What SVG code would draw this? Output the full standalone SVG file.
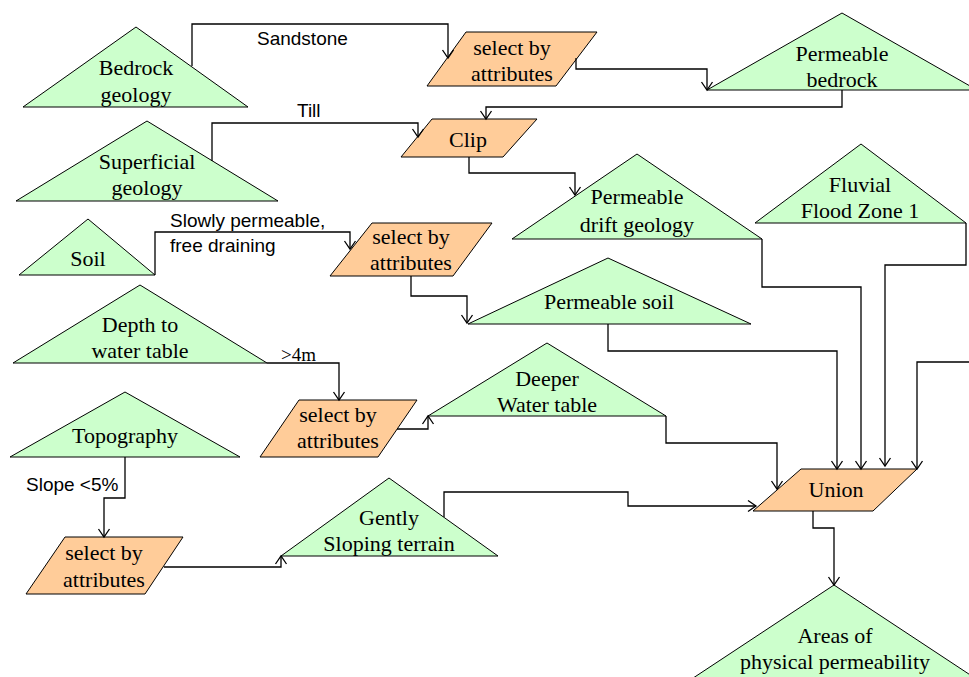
<svg xmlns="http://www.w3.org/2000/svg" width="969" height="677" viewBox="0 0 969 677">
<style>
.tri{fill:#CCFFCC;stroke:#000;stroke-width:1}
.par{fill:#FFCC99;stroke:#000;stroke-width:1}
.t{font-family:"Liberation Serif","Times New Roman",serif;font-size:22px;fill:#000;text-anchor:middle}
.lbl{font-family:"Liberation Sans",Arial,sans-serif;font-size:19px;fill:#000}
.lbls{font-family:"Liberation Serif","Times New Roman",serif;font-size:19px;fill:#000}
.c{fill:none;stroke:#000;stroke-width:1.3;marker-end:url(#arr)}
</style>
<defs>
<marker id="arr" markerWidth="12" markerHeight="12" refX="10" refY="6" orient="auto" markerUnits="userSpaceOnUse" overflow="visible">
<path d="M2,0.5 L10,6 L2,11.5" fill="none" stroke="#000" stroke-width="1.3"/>
</marker>
</defs>
<rect width="969" height="677" fill="#fff"/>

<g id="bedrock"><polygon class="tri" points="136,27 23,107 248,107"/><text class="t" x="136" y="75">Bedrock</text><text class="t" x="136" y="102">geology</text></g>
<g id="superficial"><polygon class="tri" points="147,121 16,201 278,201"/><text class="t" x="147" y="169">Superficial</text><text class="t" x="147" y="195">geology</text></g>
<g id="soil"><polygon class="tri" points="88,219 19,275 155,275"/><text class="t" x="88" y="266">Soil</text></g>
<g id="depth"><polygon class="tri" points="140,285 13,363 267,363"/><text class="t" x="140" y="332">Depth to</text><text class="t" x="140" y="358">water table</text></g>
<g id="topography"><polygon class="tri" points="125,392 10,457 240,457"/><text class="t" x="125" y="443">Topography</text></g>
<g id="perm-bedrock"><polygon class="tri" points="842,13 707,90 977,90"/><text class="t" x="842" y="61">Permeable</text><text class="t" x="842" y="87">bedrock</text></g>
<g id="fluvial"><polygon class="tri" points="861,144 755,223 966,223"/><text class="t" x="860" y="192">Fluvial</text><text class="t" x="860" y="218">Flood Zone 1</text></g>
<g id="perm-drift"><polygon class="tri" points="637,154 512,239 762,239"/><text class="t" x="637" y="204">Permeable</text><text class="t" x="637" y="232">drift geology</text></g>
<g id="perm-soil"><polygon class="tri" points="608,258 468,324 751,324"/><text class="t" x="609" y="309">Permeable soil</text></g>
<g id="deeper"><polygon class="tri" points="547,343 428,416 666,416"/><text class="t" x="547" y="386">Deeper</text><text class="t" x="547" y="412">Water table</text></g>
<g id="gently"><polygon class="tri" points="389,478 281,556 498,556"/><text class="t" x="389" y="525">Gently</text><text class="t" x="389" y="551">Sloping terrain</text></g>
<g id="areas"><polygon class="tri" points="834,585 675,690 993,690"/><text class="t" x="835" y="643">Areas of</text><text class="t" x="835" y="669">physical permeability</text></g>

<g id="select1"><polygon class="par" points="466,32 597,32 556,86 427,86"/><text class="t" x="512" y="55">select by</text><text class="t" x="512" y="81">attributes</text></g>
<g id="clip"><polygon class="par" points="432,119 537,119 503,157 401,157"/><text class="t" x="468" y="147">Clip</text></g>
<g id="select2"><polygon class="par" points="372,223 492,223 453,276 330,276"/><text class="t" x="411" y="244">select by</text><text class="t" x="411" y="270">attributes</text></g>
<g id="select3"><polygon class="par" points="299,400 417,400 378,457 260,457"/><text class="t" x="338" y="422">select by</text><text class="t" x="338" y="448">attributes</text></g>
<g id="select4"><polygon class="par" points="65,537 183,537 145,594 26,594"/><text class="t" x="104" y="560">select by</text><text class="t" x="104" y="587">attributes</text></g>
<g id="union"><polygon class="par" points="801,469 917,469 873,511 753,511"/><text class="t" x="836" y="497">Union</text></g>

<g id="connectors">
<path class="c" d="M192,66 V24 H448 V58"/>
<path class="c" d="M576,58 V69 H707 V90"/>
<path class="c" d="M842,90 V107 H486 V119"/>
<path class="c" d="M212,161 V123 H418 V137"/>
<path class="c" d="M469,157 V173 H575 V195"/>
<path class="c" d="M155,275 V232 H350 V249"/>
<path class="c" d="M411,276 V296 H467 V323"/>
<path class="c" d="M267,363 H339 V400"/>
<path class="c" d="M397,429 H428 V416"/>
<path class="c" d="M125,457 V498 H104 V537"/>
<path class="c" d="M164,567 H281 V556"/>
<path class="c" d="M444,517 V492 H628 V506 H756"/>
<path class="c" d="M666,416 V443 H777 V489"/>
<path class="c" d="M608,324 V351 H837 V469"/>
<path class="c" d="M762,239 V287 H861 V469"/>
<path class="c" d="M966,223 V265 H885 V466"/>
<path class="c" d="M972,362 H917 V469"/>
<path class="c" d="M813,511 V528 H834 V585"/>
<text class="lbl" x="257" y="45">Sandstone</text>
<text class="lbl" x="297" y="117">Till</text>
<text class="lbl" x="170" y="227">Slowly permeable,</text>
<text class="lbl" x="170" y="252">free draining</text>
<text class="lbls" x="281" y="361">&gt;4m</text>
<text class="lbl" x="26" y="491">Slope &lt;5%</text>
</g>
</svg>
